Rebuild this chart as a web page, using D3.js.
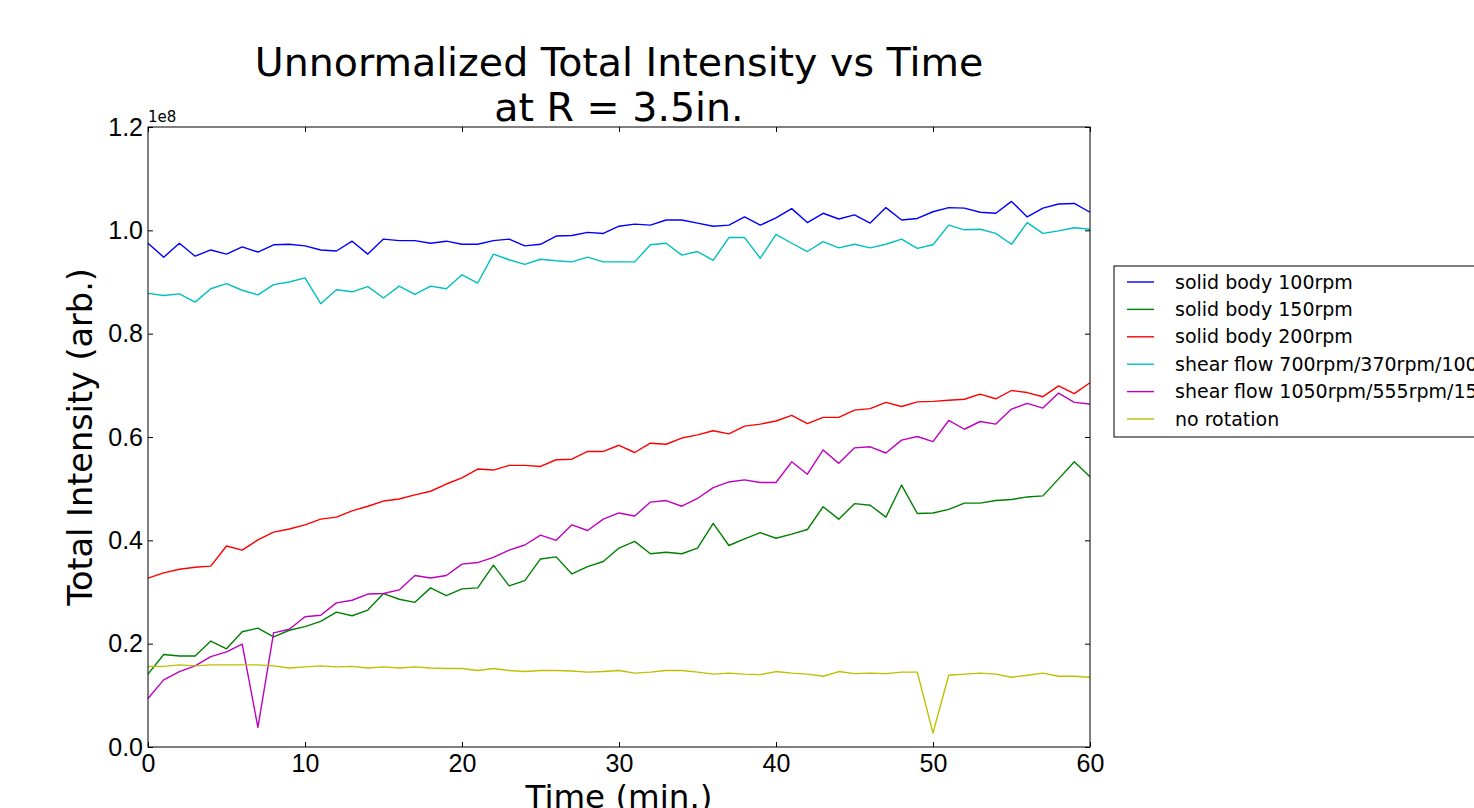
<!DOCTYPE html>
<html>
<head>
<meta charset="utf-8">
<script src="https://cdn.jsdelivr.net/npm/d3@7"></script>
<style>
  body { margin: 0; background: #fff; overflow: hidden; }
  svg { display: block; font-family: "DejaVu Sans", sans-serif; }
  .axis path { display: none; }
  .axis line { stroke: #000; }
  .axis text { font-size: 25px; fill: #000; }
</style>
</head>
<body>
<div id="graph1"></div>
<script>
var width = 1474;
var height = 808;
var margin = {top: 127, right: 384, bottom: 61, left: 148};

// time in minutes, one sample per minute
var minutes = d3.range(0, 61);

// intensities in units of 1e8
var solid100 = [0.975,0.948,0.975,0.950,0.962,0.954,0.968,0.958,0.972,0.973,0.970,0.962,0.960,0.979,0.954,0.983,0.980,0.980,0.975,0.979,
  0.973,0.973,0.980,0.983,0.970,0.973,0.989,0.990,0.996,0.994,1.008,1.012,1.010,1.020,1.020,1.014,1.008,1.010,1.026,1.010,
  1.024,1.042,1.015,1.033,1.022,1.030,1.014,1.044,1.020,1.023,1.036,1.044,1.043,1.035,1.033,1.056,1.026,1.043,1.051,1.052,1.035];
var solid150 = [0.141,0.179,0.176,0.176,0.205,0.190,0.223,0.230,0.213,0.226,0.233,0.243,0.261,0.254,0.265,0.297,0.286,0.280,0.308,0.293,
  0.306,0.308,0.352,0.312,0.322,0.364,0.368,0.335,0.349,0.359,0.385,0.398,0.374,0.377,0.374,0.385,0.433,0.390,0.403,0.415,
  0.404,0.412,0.421,0.465,0.441,0.471,0.468,0.445,0.507,0.452,0.453,0.460,0.472,0.472,0.477,0.479,0.484,0.486,0.519,0.552,0.523];
var solid200 = [0.327,0.337,0.344,0.348,0.350,0.389,0.381,0.401,0.416,0.422,0.430,0.441,0.445,0.457,0.466,0.476,0.480,0.488,0.495,0.509,
  0.521,0.538,0.536,0.545,0.545,0.543,0.556,0.557,0.572,0.572,0.584,0.570,0.588,0.586,0.598,0.604,0.612,0.606,0.621,0.625,
  0.631,0.642,0.626,0.638,0.638,0.652,0.655,0.667,0.659,0.668,0.669,0.671,0.673,0.683,0.674,0.690,0.686,0.678,0.699,0.684,0.705];
var shear700 = [0.878,0.874,0.877,0.861,0.887,0.897,0.884,0.875,0.895,0.900,0.908,0.858,0.885,0.881,0.891,0.869,0.892,0.876,0.892,0.887,
  0.914,0.898,0.954,0.943,0.934,0.944,0.941,0.939,0.948,0.939,0.939,0.939,0.972,0.975,0.952,0.959,0.942,0.986,0.986,0.946,
  0.992,0.975,0.959,0.978,0.966,0.973,0.966,0.973,0.983,0.965,0.972,1.010,1.001,1.002,0.994,0.973,1.015,0.994,0.999,1.005,1.002];
var shear1050 = [0.094,0.130,0.146,0.157,0.175,0.184,0.199,0.038,0.221,0.228,0.252,0.255,0.279,0.284,0.296,0.297,0.304,0.332,0.327,0.332,
  0.354,0.357,0.367,0.381,0.391,0.410,0.400,0.430,0.419,0.441,0.453,0.447,0.474,0.477,0.466,0.481,0.502,0.513,0.517,0.512,
  0.512,0.552,0.528,0.575,0.549,0.579,0.581,0.569,0.594,0.601,0.591,0.632,0.615,0.630,0.625,0.654,0.665,0.656,0.685,0.667,0.664];
var noRotation = [0.156,0.156,0.159,0.157,0.159,0.159,0.159,0.159,0.157,0.153,0.155,0.157,0.155,0.156,0.153,0.155,0.153,0.155,0.153,0.152,
  0.152,0.148,0.152,0.148,0.146,0.148,0.148,0.147,0.145,0.146,0.148,0.143,0.145,0.148,0.148,0.145,0.141,0.143,0.141,0.140,
  0.146,0.143,0.141,0.137,0.146,0.142,0.143,0.142,0.145,0.145,0.027,0.139,0.141,0.143,0.141,0.135,0.139,0.143,0.137,0.137,0.135];

var seriesNames = ["solid body 100rpm", "solid body 150rpm", "solid body 200rpm",
  "shear flow 700rpm/370rpm/100rpm", "shear flow 1050rpm/555rpm/150rpm", "no rotation"];
var seriesColors = ["#0000ff", "#008000", "#ff0000", "#00bfbf", "#bf00bf", "#bfbf00"];
var seriesValues = [solid100, solid150, solid200, shear700, shear1050, noRotation];

var xTicks = [0, 10, 20, 30, 40, 50, 60];
var yTicks = [0.0, 0.2, 0.4, 0.6, 0.8, 1.0, 1.2];

var w = width - margin.left - margin.right;
var h = height - margin.top - margin.bottom;

var xScale = d3.scaleLinear().domain([0, 60]).range([0, w]);
var yScale = d3.scaleLinear().domain([0, 1.2]).range([h, 0]);

var svg = d3.select("#graph1").append("svg")
    .attr("width", width)
    .attr("height", height);

var g = svg.append("g")
    .attr("transform", "translate(" + margin.left + "," + margin.top + ")");

var valueline = d3.line()
    .x(function(d, i) { return xScale(minutes[i]); })
    .y(function(d) { return yScale(d); });

seriesValues.forEach(function(vals, k) {
  g.append("path")
      .attr("d", valueline(vals))
      .attr("fill", "none")
      .attr("stroke", seriesColors[k])
      .attr("stroke-width", 1.4)
      .attr("stroke-linejoin", "round");
});

// axes, ticks pointing inward on every side
g.append("g").attr("class", "axis")
    .attr("transform", "translate(0," + h + ")")
    .call(d3.axisBottom(xScale).tickValues(xTicks).tickSize(-5).tickPadding(7).tickFormat(d3.format("d")));
g.append("g").attr("class", "axis")
    .call(d3.axisTop(xScale).tickValues(xTicks).tickSize(-5).tickFormat(""));
g.append("g").attr("class", "axis")
    .call(d3.axisLeft(yScale).tickValues(yTicks).tickSize(-5).tickPadding(5).tickFormat(d3.format(".1f")));
g.append("g").attr("class", "axis")
    .attr("transform", "translate(" + w + ",0)")
    .call(d3.axisRight(yScale).tickValues(yTicks).tickSize(-5).tickFormat(""));

g.append("rect")
    .attr("width", w).attr("height", h)
    .attr("fill", "none").attr("stroke", "#000").attr("stroke-width", 1);

g.append("text")
    .attr("x", 0).attr("y", -5)
    .attr("font-size", "15px")
    .text("1e8");

// titles
svg.append("text")
    .attr("x", margin.left + w / 2).attr("y", 76)
    .attr("text-anchor", "middle").attr("font-size", "39.5px")
    .text("Unnormalized Total Intensity vs Time");
svg.append("text")
    .attr("x", margin.left + w / 2).attr("y", 121)
    .attr("text-anchor", "middle").attr("font-size", "39.5px")
    .text("at R = 3.5in.");

svg.append("text")
    .attr("x", margin.left + w / 2).attr("y", 808)
    .attr("text-anchor", "middle").attr("font-size", "32.5px")
    .text("Time (min.)");

svg.append("text")
    .attr("transform", "translate(92," + (margin.top + h / 2) + ") rotate(-90)")
    .attr("text-anchor", "middle").attr("font-size", "33.5px")
    .text("Total Intensity (arb.)");

// legend
var legend = svg.append("g").attr("transform", "translate(1114,266)");
legend.append("rect")
    .attr("width", 420).attr("height", 171)
    .attr("fill", "#fff").attr("stroke", "#000").attr("stroke-width", 1);

seriesNames.forEach(function(name, k) {
  var yy = 16 + k * 27.4;
  legend.append("line")
      .attr("x1", 13).attr("x2", 40)
      .attr("y1", yy).attr("y2", yy)
      .attr("stroke", seriesColors[k]).attr("stroke-width", 1.4);
  legend.append("text")
      .attr("x", 61).attr("y", yy)
      .attr("dy", "0.35em")
      .attr("font-size", "19px")
      .text(name);
});
</script>
</body>
</html>
